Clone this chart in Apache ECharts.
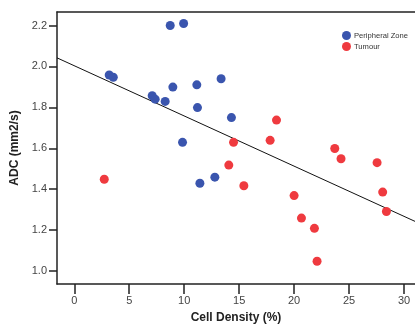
<!DOCTYPE html>
<html><head><meta charset="utf-8">
<script src="https://cdn.jsdelivr.net/npm/echarts@6/dist/echarts.min.js"></script>
<style>html,body{margin:0;padding:0;background:#fff}#c{width:415px;height:329px}</style>
</head><body><div id="c"></div>
<script>
const peripheralX = [8.73, 9.95, 3.18, 3.55, 7.09, 7.36, 8.27, 8.97, 11.15, 13.36, 11.21, 14.3, 9.85, 11.43, 12.79];
const peripheralY = [2.20, 2.21, 1.958, 1.947, 1.857, 1.84, 1.829, 1.899, 1.91, 1.94, 1.799, 1.75, 1.629, 1.429, 1.459];
const tumourX = [2.73, 14.06, 14.49, 15.43, 18.4, 17.82, 23.7, 24.27, 27.55, 28.06, 20.0, 28.4, 20.67, 21.85, 22.09];
const tumourY = [1.449, 1.518, 1.629, 1.417, 1.738, 1.639, 1.599, 1.549, 1.53, 1.386, 1.369, 1.291, 1.259, 1.209, 1.048];
const fitX = [-1.57, 31];
const fitY = [2.042, 1.243];
const xTicks = [0, 5, 10, 15, 20, 25, 30];
const yTicks = [1.0, 1.2, 1.4, 1.6, 1.8, 2.0, 2.2];

const zip = (a, b) => a.map((v, i) => [v, b[i]]);
const chart = echarts.init(document.getElementById('c'));
const FF = 'Liberation Sans, Arial, sans-serif';
const lineCol = '#222';
chart.setOption({
  animation: false,
  grid: {left: 57, top: 12, right: -3, bottom: 42},
  legend: {
    orient: 'vertical', left: 337, top: 26, itemWidth: 9, itemHeight: 9, itemGap: 2, icon: 'circle',
    textStyle: {fontFamily: FF, fontSize: 7.6, color: '#333', padding: [0,0,0,-2]},
    data: ['Peripheral Zone', 'Tumour']
  },
  xAxis: [{
    type: 'value', min: -1.57, max: 31, position: 'bottom',
    name: 'Cell Density (%)', nameLocation: 'middle', nameGap: 28,
    nameTextStyle: {fontFamily: FF, fontSize: 12, fontWeight: 'bold', color: '#222'},
    axisLine: {show: true, onZero: false, lineStyle: {color: lineCol, width: 1.5}},
    axisTick: {show: true, length: 10, customValues: xTicks, lineStyle: {color: lineCol, width: 1.5}},
    axisLabel: {margin: 11, customValues: xTicks, formatter: v => String(v), fontFamily: FF, fontSize: 11, color: '#444'},
    splitLine: {show: false}
  }, {
    type: 'value', min: -1.57, max: 31, position: 'top',
    axisLine: {show: true, onZero: false, lineStyle: {color: lineCol, width: 1.5}},
    axisTick: {show: false}, axisLabel: {show: false}, splitLine: {show: false}
  }],
  yAxis: [{
    type: 'value', min: 0.937, max: 2.266, position: 'left',
    name: 'ADC (mm2/s)', nameLocation: 'middle', nameGap: 27, nameRotate: 90,
    nameTextStyle: {fontFamily: FF, fontSize: 12, fontWeight: 'bold', color: '#222'},
    axisLine: {show: true, onZero: false, lineStyle: {color: lineCol, width: 1.5}},
    axisTick: {show: true, length: 8, customValues: yTicks, lineStyle: {color: lineCol, width: 1.5}},
    axisLabel: {margin: 10, customValues: yTicks, formatter: v => v.toFixed(1), fontFamily: FF, fontSize: 11, color: '#444'},
    splitLine: {show: false}
  }],
  series: [
    {type: 'line', data: zip(fitX, fitY), showSymbol: false, symbol: 'none', lineStyle: {color: '#111', width: 1}, z: 1, silent: true},
    {name: 'Peripheral Zone', type: 'scatter', data: zip(peripheralX, peripheralY), symbolSize: 9, itemStyle: {color: '#3a55ae', opacity: 1}, z: 3},
    {name: 'Tumour', type: 'scatter', data: zip(tumourX, tumourY), symbolSize: 9, itemStyle: {color: '#ef3a3f', opacity: 1}, z: 3}
  ]
});
</script>
</body></html>
